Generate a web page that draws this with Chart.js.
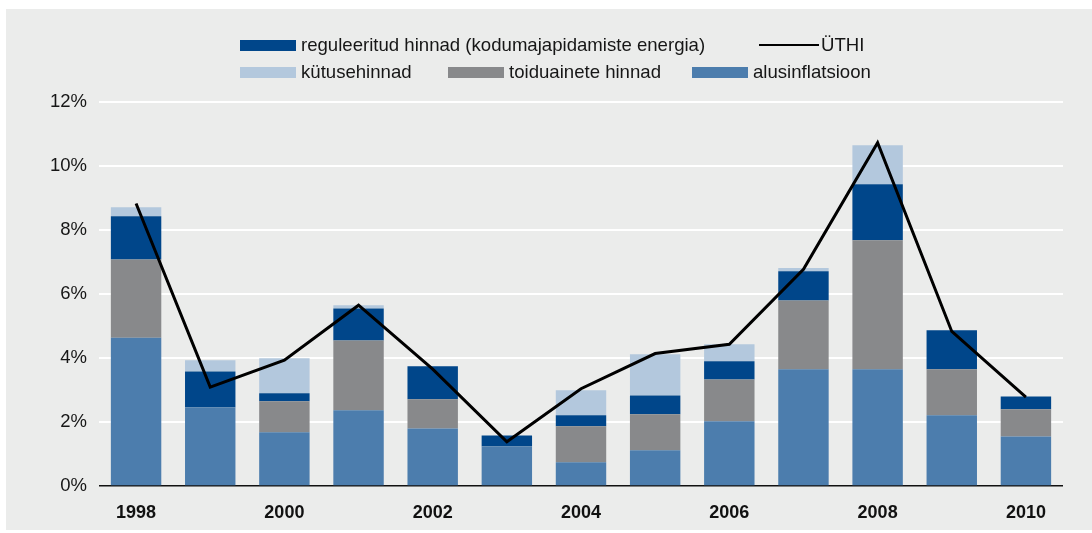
<!DOCTYPE html>
<html>
<head>
<meta charset="utf-8">
<script src="https://cdn.jsdelivr.net/npm/chart.js@4/dist/chart.umd.min.js"></script>
<style>
  html, body { margin: 0; padding: 0; background: #ffffff; }
  #wrap { position: relative; width: 1092px; height: 533px; overflow: hidden;
          font-family: "Liberation Sans", Arial, Helvetica, sans-serif; color: #161616; }
  #panel { position: absolute; left: 6px; top: 9px; width: 1086px; height: 521px; background: #ebeceb; }
  #c { position: absolute; left: 0; top: 0; }
  .lg { position: absolute; height: 22px; display: flex; align-items: center; font-size: 18.6px; white-space: nowrap; }
  .sw { width: 56px; height: 11px; margin-right: 5px; flex: none; }
  .ln { width: 60px; height: 2.8px; background: #000; margin-right: 2px; flex: none; }
</style>
</head>
<body>
<div id="wrap">
  <div id="panel"></div>
  <canvas id="c" width="1092" height="533"></canvas>
  <div id="legend"></div>
</div>
<script>
// ---- data ----
const years = ['1998','1999','2000','2001','2002','2003','2004','2005','2006','2007','2008','2009','2010'];
const alusinflatsioon   = [4.63, 2.46, 1.68, 2.37, 1.80, 1.24, 0.74, 1.12, 2.02, 3.65, 3.65, 2.21, 1.55];
const toiduainete       = [2.45, 0.00, 0.97, 2.18, 0.91, 0.00, 1.13, 1.12, 1.31, 2.15, 4.03, 1.44, 0.85];
const reguleeritud      = [1.35, 1.12, 0.25, 1.00, 1.03, 0.34, 0.34, 0.59, 0.57, 0.91, 1.75, 1.22, 0.40];
const kytusehinnad      = [0.28, 0.35, 1.09, 0.10, 0.00, 0.00, 0.78, 1.29, 0.53, 0.10, 1.22, 0.00, 0.00];
const uthi              = [8.83, 3.09, 3.93, 5.65, 3.65, 1.38, 3.04, 4.14, 4.43, 6.77, 10.73, 4.83, 2.78];
const yTicks = [0, 2, 4, 6, 8, 10, 12];
const xTickLabels = ['1998','','2000','','2002','','2004','','2006','','2008','','2010'];

const names = {
  reg: 'reguleeritud hinnad (kodumajapidamiste energia)',
  uthi: 'ÜTHI',
  fuel: 'kütusehinnad',
  food: 'toiduainete hinnad',
  alus: 'alusinflatsioon'
};
const colors = {
  alus: '#4c7dad',
  food: '#88898b',
  reg: '#00468a',
  fuel: '#b3c8dd',
  uthi: '#000000'
};

// ---- HTML legend ----
const legendItems = [
  { key: 'reg',  type: 'box',  x: 240, y: 34 },
  { key: 'uthi', type: 'line', x: 759, y: 34 },
  { key: 'fuel', type: 'box',  x: 240, y: 61 },
  { key: 'food', type: 'box',  x: 448, y: 61 },
  { key: 'alus', type: 'box',  x: 692, y: 61 }
];
const legendEl = document.getElementById('legend');
legendItems.forEach(it => {
  const d = document.createElement('div');
  d.className = 'lg';
  d.style.left = it.x + 'px';
  d.style.top = it.y + 'px';
  const s = document.createElement('span');
  s.className = it.type === 'box' ? 'sw' : 'ln';
  s.style.background = colors[it.key];
  d.appendChild(s);
  const t = document.createElement('span');
  t.textContent = names[it.key];
  d.appendChild(t);
  legendEl.appendChild(d);
});

// ---- chart ----
const FONT = "'Liberation Sans', Arial, Helvetica, sans-serif";
const barCommon = { type: 'bar', order: 1, stack: 'bars', barPercentage: 0.68, categoryPercentage: 1.0, borderWidth: 0 };

new Chart(document.getElementById('c'), {
  data: {
    labels: years,
    datasets: [
      Object.assign({ label: names.alus, data: alusinflatsioon, backgroundColor: colors.alus }, barCommon),
      Object.assign({ label: names.food, data: toiduainete, backgroundColor: colors.food }, barCommon),
      Object.assign({ label: names.reg,  data: reguleeritud, backgroundColor: colors.reg }, barCommon),
      Object.assign({ label: names.fuel, data: kytusehinnad, backgroundColor: colors.fuel }, barCommon),
      { type: 'line', label: names.uthi, data: uthi, order: 0, stack: 'line',
        borderColor: colors.uthi, borderWidth: 3, pointRadius: 0, tension: 0, fill: false }
    ]
  },
  options: {
    responsive: false,
    devicePixelRatio: 1,
    animation: false,
    layout: { padding: { left: 0, right: 29, top: 102, bottom: 0 } },
    plugins: { legend: { display: false }, tooltip: { enabled: false } },
    scales: {
      x: {
        stacked: true,
        grid: { display: false, drawTicks: false },
        border: { display: false },
        ticks: {
          autoSkip: false, maxRotation: 0, padding: 16, color: '#111',
          font: { family: FONT, size: 18, weight: 'bold' },
          callback: (v, i) => xTickLabels[i]
        },
        afterFit: s => { s.height = 47; }
      },
      y: {
        stacked: true,
        min: 0, max: 12,
        afterBuildTicks: s => { s.ticks = yTicks.map(v => ({ value: v })); },
        grid: {
          drawTicks: false,
          color: c => (c.tick && c.tick.value === 0) ? '#111111' : '#ffffff',
          lineWidth: c => (c.tick && c.tick.value === 0) ? 1.6 : 2
        },
        border: { display: false },
        ticks: {
          padding: 12, color: '#161616',
          font: { family: FONT, size: 18.5 },
          callback: v => v + '%'
        },
        afterFit: s => { s.width = 99; }
      }
    }
  }
});
</script>
</body>
</html>
